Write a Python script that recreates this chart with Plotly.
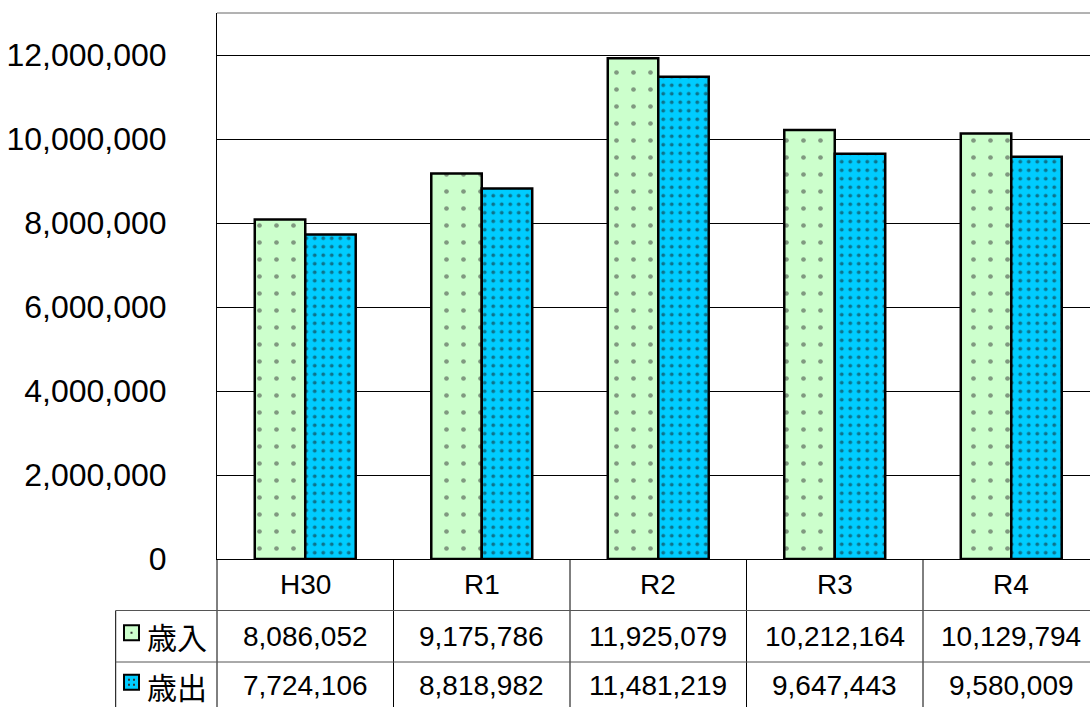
import plotly.graph_objects as go

# Fiscal years and totals (千円)
years = ["H30", "R1", "R2", "R3", "R4"]
revenue = [8086052, 9175786, 11925079, 10212164, 10129794]      # 歳入
expenditure = [7724106, 8818982, 11481219, 9647443, 9580009]    # 歳出
series_names = ["歳入", "歳出"]
y_ticks = [0, 2000000, 4000000, 6000000, 8000000, 10000000, 12000000]

W, H = 1090, 707
PLOT_L, PLOT_T, PLOT_B = 217, 13, 559
CAT_W = 176.5                       # pixel width of one category column
ROW_H = 51.5                        # data table row height
plot_w = W - PLOT_L
plot_h = PLOT_B - PLOT_T

GREEN = "#CCFFCC"
BLUE = "#00CCFF"
FONT = "Liberation Sans, Arial, Noto Sans CJK JP, sans-serif"
JFONT = "Noto Sans CJK JP, sans-serif"


def px_x(X):
    return (X - PLOT_L) / plot_w


def px_y(Y):
    return (PLOT_B - Y) / plot_h


fig = go.Figure()
fig.add_trace(go.Bar(
    x=list(range(len(years))), y=revenue, name=series_names[0],
    marker=dict(color=GREEN, line=dict(color="black", width=2.5),
                pattern=dict(shape=".", fillmode="overlay", fgcolor="#333333",
                             size=17, solidity=0.06)),
))
fig.add_trace(go.Bar(
    x=list(range(len(years))), y=expenditure, name=series_names[1],
    marker=dict(color=BLUE, line=dict(color="black", width=2.5),
                pattern=dict(shape=".", fillmode="overlay", fgcolor="#1a1a1a",
                             size=8.5, solidity=0.16)),
))

x_max = -0.5 + plot_w / CAT_W
fig.update_layout(
    width=W, height=H,
    margin=dict(l=PLOT_L, r=0, t=PLOT_T, b=H - PLOT_B),
    paper_bgcolor="white", plot_bgcolor="white",
    barmode="group", bargap=0.428, bargroupgap=0,
    showlegend=False,
    font=dict(family=FONT, color="black"),
    xaxis=dict(range=[-0.5, x_max], showticklabels=False, showgrid=False,
               zeroline=False, showline=True, linecolor="black", linewidth=1,
               ticks=""),
    yaxis=dict(range=[0, 13000000], tickvals=y_ticks, tickformat=",d",
               showgrid=True, gridcolor="black", gridwidth=1, zeroline=False,
               showline=True, linecolor="black", linewidth=1, ticks="",
               ticklabelstandoff=43,
               tickfont=dict(size=32, family=FONT, color="black")),
)

shapes = []
ann = []
bottom = H + 10
left_col = PLOT_L - 101.3

# top border of plot area
shapes.append(dict(type="line", xref="paper", yref="paper",
                   x0=0, x1=1.01, y0=1, y1=1,
                   line=dict(color="#666666", width=1)))
# table vertical lines (category boundaries)
for i in range(len(years) + 1):
    X = PLOT_L + i * CAT_W
    if X > W:
        continue
    shapes.append(dict(type="line", xref="paper", yref="paper",
                       x0=px_x(X), x1=px_x(X), y0=0, y1=px_y(bottom),
                       line=dict(color="black", width=1)))
# left edge of the series label column
shapes.append(dict(type="line", xref="paper", yref="paper",
                   x0=px_x(left_col), x1=px_x(left_col),
                   y0=px_y(PLOT_B + ROW_H), y1=px_y(bottom),
                   line=dict(color="black", width=1)))
# table horizontal lines
for r in (1, 2):
    Y = PLOT_B + r * ROW_H
    shapes.append(dict(type="line", xref="paper", yref="paper",
                       x0=px_x(left_col), x1=1.01, y0=px_y(Y), y1=px_y(Y),
                       line=dict(color="#555555", width=1)))

# category row
for i, yr in enumerate(years):
    ann.append(dict(x=i, y=px_y(PLOT_B + ROW_H / 2), xref="x", yref="paper",
                    text=yr, showarrow=False, xanchor="center", yanchor="middle",
                    font=dict(size=28, family=FONT, color="black")))

# value rows with legend keys
for r, (vals, name, col) in enumerate(((revenue, series_names[0], GREEN),
                                       (expenditure, series_names[1], BLUE))):
    cy = PLOT_B + ROW_H * (r + 1.5) - (2 if r == 1 else 0)
    for i, v in enumerate(vals):
        ann.append(dict(x=i, y=px_y(cy), xref="x", yref="paper",
                        text=f"{v:,}", showarrow=False, xanchor="center",
                        yanchor="middle", borderpad=0,
                        font=dict(size=28, family=FONT, color="black")))
    ann.append(dict(x=px_x(177), y=px_y(cy), xref="paper", yref="paper",
                    text=name, showarrow=False, xanchor="center",
                    yanchor="middle", borderpad=0,
                    font=dict(size=30, family=JFONT, color="black")))
    kx0, kx1 = 124, 139
    ky0, ky1 = cy - 11, cy + 4
    shapes.append(dict(type="rect", xref="paper", yref="paper",
                       x0=px_x(kx0), x1=px_x(kx1), y0=px_y(ky1), y1=px_y(ky0),
                       fillcolor=col, line=dict(color="black", width=2)))
    if r == 0:
        dots = [((kx0 + kx1) / 2, (ky0 + ky1) / 2)]
    else:
        dots = [(kx0 + 5, ky0 + 5), (kx1 - 5, ky0 + 5),
                (kx0 + 5, ky1 - 5), (kx1 - 5, ky1 - 5)]
    for dx, dy in dots:
        shapes.append(dict(type="rect", xref="paper", yref="paper",
                           x0=px_x(dx - 1), x1=px_x(dx + 1),
                           y0=px_y(dy + 1), y1=px_y(dy - 1),
                           fillcolor="#333333", line=dict(width=0)))

fig.update_layout(shapes=shapes, annotations=ann)
fig.write_html("out.html")
